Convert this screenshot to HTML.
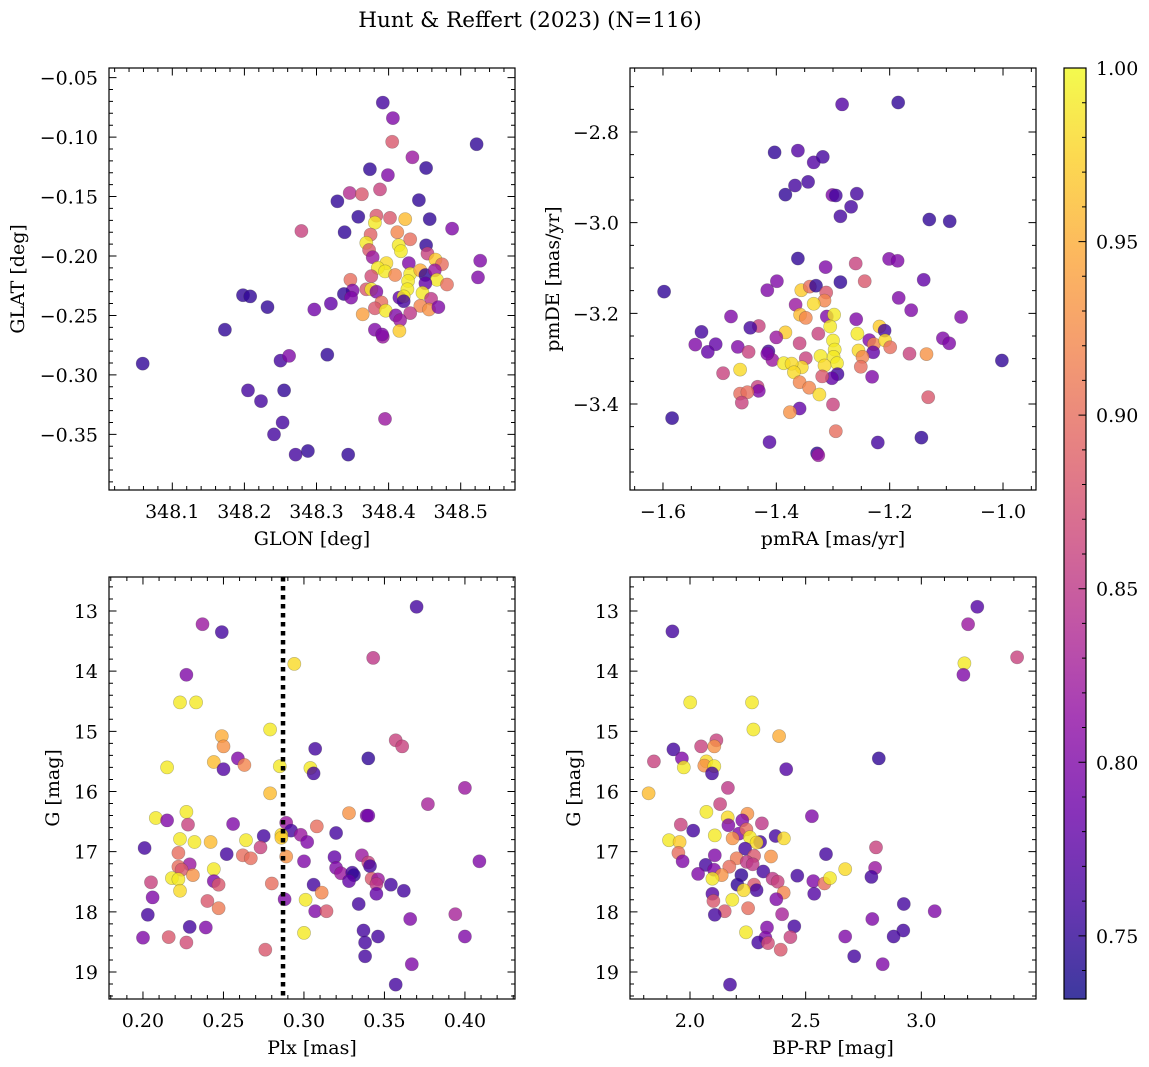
<!DOCTYPE html>
<html><head><meta charset="utf-8">
<style>
html,body{margin:0;padding:0;background:#fff;}
svg{display:block;font-family:"DejaVu Serif","Liberation Serif",serif;}
</style></head>
<body>
<svg id="fig" width="1149" height="1067" viewBox="0 0 1149 1067" xmlns="http://www.w3.org/2000/svg">
<text x="530" y="27" text-anchor="middle" font-size="21.5">Hunt &amp; Reffert (2023) (N=116)</text>
</svg>
<script>
// ---- Panel 1: GLON vs GLAT ----
const glon=[348.059,348.198,348.208,348.232,348.173,348.205,348.223,348.255,348.250,348.262,
348.253,348.241,348.271,348.288,348.344,348.315,348.395,348.279,348.297,348.320,
348.329,348.339,348.346,348.363,348.358,348.374,348.388,348.392,348.406,348.405,
348.433,348.399,348.452,348.442,348.457,348.488,348.522,348.527,348.524,348.383,
348.402,348.423,348.381,348.375,348.412,348.430,348.369,348.414,348.417,348.373,
348.452,348.454,348.378,348.465,348.474,348.397,348.428,348.385,348.395,348.409,
348.376,348.430,348.444,348.451,348.464,348.467,348.481,348.347,348.427,348.451,
348.350,348.338,348.348,348.369,348.376,348.383,348.426,348.447,348.459,348.415,
348.421,348.421,348.390,348.381,348.396,348.444,348.456,348.469,348.430,348.364,
348.410,348.416,348.415,348.381,348.392,348.391];
const glat=[-0.2905,-0.233,-0.234,-0.243,-0.262,-0.313,-0.322,-0.313,-0.288,-0.284,
-0.340,-0.350,-0.367,-0.364,-0.367,-0.283,-0.337,-0.179,-0.245,-0.240,
-0.154,-0.180,-0.147,-0.148,-0.167,-0.127,-0.144,-0.071,-0.084,-0.104,
-0.117,-0.132,-0.126,-0.153,-0.169,-0.177,-0.106,-0.204,-0.218,-0.166,
-0.168,-0.169,-0.172,-0.182,-0.180,-0.186,-0.189,-0.191,-0.196,-0.195,
-0.191,-0.198,-0.201,-0.203,-0.207,-0.206,-0.206,-0.210,-0.213,-0.216,
-0.217,-0.215,-0.212,-0.216,-0.212,-0.220,-0.224,-0.220,-0.221,-0.223,
-0.229,-0.232,-0.235,-0.228,-0.228,-0.230,-0.228,-0.231,-0.236,-0.235,
-0.234,-0.238,-0.239,-0.244,-0.246,-0.242,-0.245,-0.243,-0.248,-0.249,
-0.250,-0.254,-0.263,-0.262,-0.268,-0.266];
const probPos=[.75,.75,.75,.75,.75,.76,.76,.75,.76,.80,
.76,.76,.76,.75,.75,.75,.82,.86,.79,.78,
.75,.75,.84,.88,.75,.75,.86,.76,.80,.88,
.82,.80,.75,.75,.75,.80,.75,.80,.80,.88,
.88,.96,.99,.89,.92,.90,.99,.99,.99,.88,
.75,.86,.82,.97,.90,.98,.80,.99,.99,.92,
.87,.99,.95,.75,.82,.99,.90,.90,.99,.78,
.80,.75,.80,.88,.99,.80,.99,.99,.85,.78,
.99,.76,.90,.88,.99,.92,.93,.80,.85,.94,
.80,.82,.97,.80,.82,.80];
// ---- Panel 2: pmRA vs pmDE ----
const pmra=[-1.284,-1.185,-1.403,-1.362,-1.334,-1.318,-1.367,-1.344,-1.384,-1.301,
-1.295,-1.258,-1.268,-1.287,-1.130,-1.094,-1.598,-1.362,-1.313,-1.260,
-1.201,-1.186,-1.140,-1.244,-1.287,-1.399,-1.416,-1.356,-1.341,-1.330,
-1.312,-1.315,-1.334,-1.366,-1.184,-1.162,-1.074,-1.480,-1.358,-1.348,
-1.311,-1.298,-1.305,-1.259,-1.431,-1.446,-1.532,-1.384,-1.400,-1.326,
-1.257,-1.218,-1.209,-1.236,-1.300,-1.359,-1.543,-1.507,-1.521,-1.468,
-1.449,-1.414,-1.407,-1.416,-1.297,-1.299,-1.322,-1.293,-1.315,-1.348,
-1.355,-1.387,-1.373,-1.369,-1.255,-1.228,-1.208,-1.199,-1.229,-1.248,
-1.251,-1.165,-1.135,-1.106,-1.095,-1.002,-1.231,-1.292,-1.302,-1.319,
-1.464,-1.494,-1.359,-1.342,-1.324,-1.433,-1.431,-1.464,-1.451,-1.461,
-1.132,-1.300,-1.359,-1.376,-1.295,-1.584,-1.412,-1.221,-1.144,-1.328,-1.326];
const pmde=[-2.739,-2.735,-2.845,-2.841,-2.867,-2.855,-2.918,-2.910,-2.938,-2.939,
-2.940,-2.936,-2.965,-2.986,-2.993,-2.997,-3.152,-3.079,-3.098,-3.090,
-3.080,-3.084,-3.126,-3.129,-3.131,-3.129,-3.149,-3.149,-3.141,-3.139,
-3.154,-3.172,-3.179,-3.181,-3.166,-3.193,-3.208,-3.207,-3.203,-3.210,
-3.207,-3.203,-3.229,-3.213,-3.228,-3.232,-3.241,-3.242,-3.253,-3.245,
-3.245,-3.229,-3.238,-3.259,-3.260,-3.266,-3.269,-3.268,-3.285,-3.274,
-3.285,-3.284,-3.303,-3.289,-3.280,-3.296,-3.294,-3.310,-3.315,-3.299,
-3.319,-3.310,-3.311,-3.330,-3.282,-3.268,-3.260,-3.275,-3.286,-3.296,
-3.318,-3.289,-3.290,-3.255,-3.266,-3.304,-3.340,-3.334,-3.343,-3.339,
-3.324,-3.332,-3.352,-3.364,-3.379,-3.362,-3.371,-3.377,-3.374,-3.397,
-3.385,-3.401,-3.410,-3.418,-3.460,-3.431,-3.484,-3.485,-3.474,-3.509,-3.513];
const probPm=[.77,.75,.75,.77,.77,.76,.76,.76,.75,.80,
.76,.76,.76,.76,.75,.75,.75,.75,.80,.86,
.80,.80,.78,.88,.75,.80,.80,.97,.90,.75,
.88,.92,.98,.82,.80,.80,.80,.80,.96,.92,
.80,.99,.99,.80,.86,.76,.76,.97,.82,.86,
.99,.97,.76,.80,.99,.86,.80,.78,.78,.80,
.86,.76,.82,.80,.99,.99,.99,.99,.98,.86,
.98,.99,.98,.98,.98,.92,.98,.90,.78,.92,
.90,.86,.93,.80,.80,.75,.80,.76,.78,.88,
.98,.86,.92,.92,.98,.86,.80,.90,.90,.86,
.88,.86,.78,.93,.90,.75,.77,.76,.75,.75,.82];
// ---- Panel 3: Plx vs G ----
const plx=[0.370,0.237,0.249,0.343,0.294,0.227,0.223,0.233,0.279,0.249,
0.250,0.357,0.361,0.307,0.340,0.259,0.244,0.263,0.250,0.215,
0.285,0.304,0.306,0.279,0.400,0.377,0.208,0.227,0.215,0.228,
0.256,0.328,0.339,0.340,0.289,0.292,0.308,0.298,0.302,0.320,
0.275,0.286,0.286,0.223,0.232,0.242,0.264,0.273,0.201,0.252,
0.262,0.267,0.222,0.289,0.300,0.319,0.336,0.340,0.341,0.409,
0.229,0.222,0.224,0.244,0.320,0.323,0.330,0.331,0.328,0.231,
0.218,0.222,0.205,0.244,0.247,0.280,0.306,0.311,0.342,0.346,
0.345,0.345,0.354,0.362,0.223,0.206,0.288,0.301,0.334,0.240,
0.247,0.307,0.314,0.203,0.366,0.394,0.229,0.239,0.300,0.337,
0.346,0.338,0.200,0.216,0.227,0.400,0.276,0.338,0.367,0.357];
const gPlx=[12.93,13.22,13.35,13.78,13.88,14.06,14.52,14.52,14.97,15.08,
15.25,15.15,15.25,15.29,15.45,15.45,15.51,15.56,15.63,15.60,
15.58,15.61,15.70,16.03,15.94,16.21,16.44,16.34,16.48,16.55,
16.54,16.36,16.40,16.40,16.52,16.65,16.58,16.72,16.84,16.69,
16.74,16.72,16.77,16.79,16.84,16.84,16.81,16.93,16.94,17.04,
17.06,17.11,17.02,17.08,17.16,17.09,17.06,17.18,17.24,17.16,
17.21,17.25,17.30,17.29,17.27,17.36,17.35,17.39,17.49,17.39,
17.44,17.46,17.51,17.49,17.55,17.53,17.55,17.68,17.45,17.46,
17.54,17.70,17.55,17.65,17.65,17.76,17.79,17.80,17.87,17.82,
17.94,17.99,17.99,18.05,18.12,18.04,18.25,18.26,18.35,18.31,
18.41,18.51,18.43,18.42,18.51,18.41,18.63,18.74,18.87,19.21];
const probPlx=[.76,.82,.76,.85,.98,.80,.99,.99,.99,.95,
.93,.86,.86,.76,.75,.80,.96,.92,.77,.99,
.99,.99,.76,.96,.82,.83,.99,.99,.80,.86,
.80,.93,.80,.79,.82,.76,.90,.82,.80,.76,
.76,.98,.97,.99,.99,.96,.99,.86,.76,.76,
.90,.90,.90,.93,.80,.78,.82,.86,.76,.80,
.82,.90,.88,.99,.80,.82,.76,.75,.78,.93,
.99,.99,.86,.80,.88,.90,.76,.92,.88,.82,
.85,.78,.76,.76,.98,.80,.80,.99,.76,.88,
.91,.80,.88,.76,.80,.83,.76,.80,.99,.76,
.76,.76,.80,.88,.87,.80,.88,.76,.80,.76];
const plxLine=[0.287];
// ---- Panel 4: BP-RP vs G ----
const bprp=[3.242,3.202,1.924,3.414,3.186,3.182,2.001,2.268,2.274,2.385,
2.114,2.048,2.105,1.928,1.844,1.965,1.973,2.071,2.062,2.105,
2.095,2.416,2.816,1.821,2.164,2.130,2.071,2.163,2.248,2.166,
2.226,2.311,2.527,1.960,2.014,2.107,2.212,2.244,2.184,2.259,
2.303,2.288,2.370,2.406,1.909,1.955,1.950,1.968,2.107,2.238,
2.202,2.277,2.350,2.245,2.271,2.588,2.804,2.068,2.170,2.035,
2.104,2.137,2.097,2.222,2.317,2.357,2.379,2.277,2.205,2.288,
2.232,2.464,2.533,2.581,2.605,2.671,2.800,2.784,2.537,2.405,
2.373,2.097,2.101,2.183,2.924,3.058,2.251,2.150,2.107,2.398,
2.788,2.451,2.333,2.242,2.922,2.880,2.671,2.434,2.326,2.295,
2.337,2.392,2.710,2.833,2.173];
const gCol=[12.93,13.22,13.34,13.77,13.87,14.06,14.52,14.52,14.97,15.08,
15.15,15.25,15.25,15.30,15.50,15.45,15.60,15.50,15.57,15.58,
15.70,15.63,15.45,16.03,15.94,16.21,16.34,16.43,16.37,16.56,
16.48,16.53,16.41,16.55,16.65,16.73,16.70,16.63,16.78,16.76,
16.84,16.85,16.74,16.78,16.81,16.84,17.02,17.16,17.06,16.95,
17.11,17.07,17.08,17.17,17.21,17.04,16.93,17.22,17.25,17.37,
17.30,17.39,17.45,17.39,17.33,17.45,17.50,17.55,17.55,17.64,
17.64,17.40,17.49,17.53,17.44,17.29,17.27,17.42,17.70,17.68,
17.79,17.70,17.82,17.80,17.87,17.99,17.94,17.99,18.05,18.04,
18.12,18.24,18.26,18.34,18.31,18.41,18.41,18.42,18.43,18.51,
18.52,18.63,18.74,18.87,19.21];
const probCol=[.77,.82,.76,.86,.99,.80,.99,.99,.99,.95,
.86,.86,.93,.76,.86,.80,.99,.98,.93,.99,
.76,.77,.75,.96,.85,.86,.99,.98,.93,.80,
.80,.85,.80,.86,.76,.99,.80,.90,.93,.99,
.76,.98,.76,.98,.99,.97,.90,.80,.80,.76,
.91,.88,.93,.85,.85,.76,.86,.76,.90,.80,
.80,.93,.99,.75,.76,.85,.86,.88,.75,.76,
.98,.76,.80,.90,.99,.98,.82,.76,.77,.92,
.80,.77,.88,.99,.76,.80,.90,.88,.76,.83,
.80,.76,.80,.99,.76,.76,.80,.86,.80,.76,
.87,.88,.76,.80,.76];
// ---- tick label arrays ----
const ticksGlon=[348.1,348.2,348.3,348.4,348.5];
const ticksGlat=[-0.35,-0.30,-0.25,-0.20,-0.15,-0.10,-0.05];
const ticksPmra=[-1.6,-1.4,-1.2,-1.0];
const ticksPmde=[-3.4,-3.2,-3.0,-2.8];
const ticksPlx=[0.20,0.25,0.30,0.35,0.40];
const ticksG=[13,14,15,16,17,18,19];
const ticksBprp=[2.0,2.5,3.0,3.5];
const ticksCbar=[0.75,0.80,0.85,0.90,0.95,1.00];
const cMin=0.7318, cMax=1.0;

const NS="http://www.w3.org/2000/svg";
const svg=document.getElementById('fig');
const FS=19;
function mk(tag,attrs,parent){const e=document.createElementNS(NS,tag);for(const k in attrs)e.setAttribute(k,attrs[k]);(parent||svg).appendChild(e);return e;}
const plasma=[[13,8,135],[65,4,157],[106,0,168],[143,13,164],[177,42,144],[204,71,120],[225,100,98],[242,132,75],[252,166,54],[252,206,37],[240,249,33]];
function cmap(t){t=Math.max(0,Math.min(1,t));const s=t*10;const i=Math.min(9,Math.floor(s));const f=s-i;const a=plasma[i],b=plasma[i+1];
return 'rgb('+[0,1,2].map(j=>Math.round(a[j]+(b[j]-a[j])*f)).join(',')+')';}
function fmt(v,d){const s=Math.abs(v).toFixed(d);return (v<0?'\u2212':'')+s;}

function panel(o){
  const g=mk('g',{});
  
  
  const sx=v=>o.x0+(v-o.xmin)/(o.xmax-o.xmin)*(o.x1-o.x0);
  const sy=o.yinv? (v=>o.y0+(v-o.ymin)/(o.ymax-o.ymin)*(o.y1-o.y0)) : (v=>o.y1-(v-o.ymin)/(o.ymax-o.ymin)*(o.y1-o.y0));
  const n=Math.min(o.xs.length,o.ys.length,o.ps.length);
  for(let i=0;i<n;i++){
    const c=mk('circle',{cx:sx(o.xs[i]).toFixed(1),cy:sy(o.ys[i]).toFixed(1),r:6.6,fill:cmap((o.ps[i]-cMin)/(cMax-cMin)),'fill-opacity':0.8,stroke:'rgba(60,60,60,0.35)','stroke-width':0.6},g);
    
    
  }
  if(o.vline){o.vline.forEach(v=>{const l=mk('line',{x1:sx(v),x2:sx(v),y1:o.y0,y2:o.y1,stroke:'#000','stroke-width':4.5,'stroke-dasharray':'4.5 4.5'},g);
    
    });}
  const fr=mk('rect',{x:o.x0,y:o.y0,width:o.x1-o.x0,height:o.y1-o.y0,fill:'none',stroke:'#000','stroke-width':1.2},g);
  
  
  const eps=1e-9;
  let tk='';
  const xs0=Math.ceil(o.xmin/o.xminor-eps)*o.xminor;
  for(let v=xs0;v<=o.xmax+eps;v+=o.xminor){const X=sx(v);if(X<o.x0+0.5||X>o.x1-0.5)continue;tk+=`M${X},${o.y1}v-4M${X},${o.y0}v4`;}
  const ys0=Math.ceil(o.ymin/o.yminor-eps)*o.yminor;
  for(let v=ys0;v<=o.ymax+eps;v+=o.yminor){const Y=sy(v);if(Y<o.y0+0.5||Y>o.y1-0.5)continue;tk+=`M${o.x0},${Y}h4M${o.x1},${Y}h-4`;}
  o.xt.forEach(v=>{const X=sx(v);if(X<o.x0-0.5||X>o.x1+0.5)return;tk+=`M${X},${o.y1}v-7.5M${X},${o.y0}v7.5`;});
  o.yt.forEach(v=>{const Y=sy(v);if(Y<o.y0-0.5||Y>o.y1+0.5)return;tk+=`M${o.x0},${Y}h7.5M${o.x1},${Y}h-7.5`;});
  const tp=mk('path',{d:tk,stroke:'#000','stroke-width':1,fill:'none'},g);
  
  
  o.xt.forEach(v=>{const X=sx(v);if(X<o.x0-0.5||X>o.x1+0.5)return;const t=mk('text',{x:X,y:o.y1+28,'text-anchor':'middle','font-size':FS},g);t.textContent=fmt(v,o.xd);
    
    });
  o.yt.forEach(v=>{const Y=sy(v);if(Y<o.y0-0.5||Y>o.y1+0.5)return;const t=mk('text',{x:o.x0-11,y:Y+7,'text-anchor':'end','font-size':FS},g);t.textContent=fmt(v,o.yd);
    
    });
  const xl=mk('text',{x:(o.x0+o.x1)/2,y:o.y1+55,'text-anchor':'middle','font-size':FS},g);xl.textContent=o.xlabel;
  
  
  const yx=o.ylx, yy=(o.y0+o.y1)/2;
  const yl=mk('text',{x:yx,y:yy,'text-anchor':'middle','font-size':FS,transform:`rotate(-90 ${yx} ${yy})`},g);yl.textContent=o.ylabel;
  
  
}

panel({name:'glon-glat-panel',x0:109,x1:515,y0:68,y1:490,xmin:348.0122,xmax:348.5753,ymin:-0.3968,ymax:-0.0419,xs:glon,ys:glat,ps:probPos,
 xt:ticksGlon,yt:ticksGlat,xminor:0.02,yminor:0.01,xd:1,yd:2,xlabel:'GLON [deg]',ylabel:'GLAT [deg]',ylx:24});
panel({name:'proper-motion-panel',x0:630,x1:1036,y0:68,y1:490,xmin:-1.6582,xmax:-0.9418,ymin:-3.5897,ymax:-2.6588,xs:pmra,ys:pmde,ps:probPm,
 xt:ticksPmra,yt:ticksPmde,xminor:0.05,yminor:0.05,xd:1,yd:1,xlabel:'pmRA [mas/yr]',ylabel:'pmDE [mas/yr]',ylx:559});
panel({name:'parallax-magnitude-panel',x0:109,x1:515,y0:577,y1:999,xmin:0.1789,xmax:0.4311,ymin:12.435,ymax:19.449,yinv:true,xs:plx,ys:gPlx,ps:probPlx,vline:plxLine,
 xt:ticksPlx,yt:ticksG,xminor:0.01,yminor:0.2,xd:2,yd:0,xlabel:'Plx [mas]',ylabel:'G [mag]',ylx:59});
panel({name:'color-magnitude-panel',x0:630,x1:1036,y0:577,y1:999,xmin:1.7406,xmax:3.4957,ymin:12.435,ymax:19.449,yinv:true,xs:bprp,ys:gCol,ps:probCol,
 xt:ticksBprp,yt:ticksG,xminor:0.1,yminor:0.2,xd:1,yd:0,xlabel:'BP-RP [mag]',ylabel:'G [mag]',ylx:580});

const cb=mk('g',{});


const defs=mk('defs',{},cb);
const lg=mk('linearGradient',{id:'plasmaGrad',x1:0,y1:1,x2:0,y2:0},defs);
plasma.forEach((c,i)=>mk('stop',{offset:(i/10),'stop-color':`rgb(${c.join(',')})`},lg));
const cx0=1064,cx1=1086,cy0=68,cy1=999;
const cbr=mk('rect',{x:cx0,y:cy0,width:cx1-cx0,height:cy1-cy0,fill:'url(#plasmaGrad)','fill-opacity':0.8},cb);


mk('rect',{x:cx0,y:cy0,width:cx1-cx0,height:cy1-cy0,fill:'none',stroke:'#000','stroke-width':1.2},cb);
const cy=v=>cy1-(v-cMin)/(cMax-cMin)*(cy1-cy0);
let cd='';
for(let v=0.74;v<=1.0001;v+=0.01){cd+=`M${cx1},${cy(v)}h-4`;}
ticksCbar.forEach(v=>{cd+=`M${cx1},${cy(v)}h-7.5`;});
mk('path',{d:cd,stroke:'#000','stroke-width':1},cb);
ticksCbar.forEach(v=>{const t=mk('text',{x:1096,y:cy(v)+7,'font-size':FS},cb);t.textContent=v.toFixed(2);
  
  });
</script>
</body></html>
